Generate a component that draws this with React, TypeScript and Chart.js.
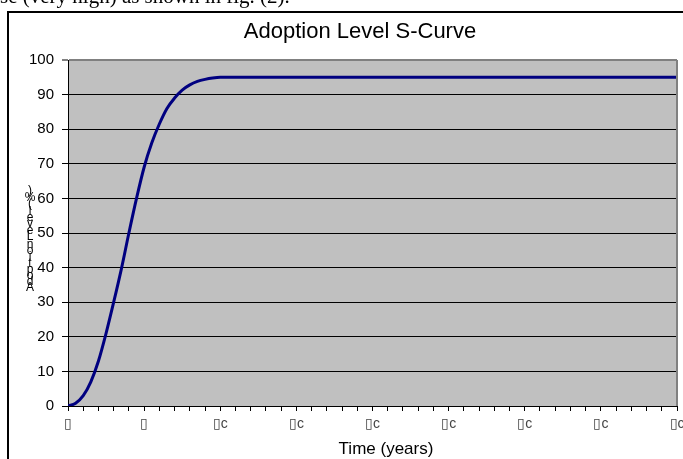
import React, { useEffect, useRef } from "react";
import { Chart, registerables } from "chart.js";

Chart.register(...registerables);

// Data
const times = [0, 0.5, 1, 1.5, 2, 2.5, 3, 3.5, 4, 4.5, 5, 5.5, 6, 6.5, 7, 7.5, 8, 8.5, 9, 9.5, 10, 11, 12, 15, 20, 25, 30, 35, 40];
const adoption = [0, 0.8, 3, 7, 13, 21, 30, 39.5, 50, 60, 69, 76, 81.5, 86, 89, 91.3, 92.8, 93.8, 94.4, 94.8, 95, 95, 95, 95, 95, 95, 95, 95, 95];
const xTickLabels = ["\u25AF", "\u25AF", "\u25AFc", "\u25AFc", "\u25AFc", "\u25AFc", "\u25AFc", "\u25AFc", "\u25AFc"];
const chartTitle = "Adoption Level S-Curve";
const xTitle = "Time (years)";
const yTitle = "Adoption Level (%)";
const docText = "se (very high) as shown in fig. (2).";

const FONT = "'Liberation Sans', Arial, sans-serif";

export default function App() {
  const ref = useRef<HTMLCanvasElement | null>(null);

  useEffect(() => {
    if (!ref.current) return;
    const decor = {
      id: "decor",
      beforeDraw(chart: any) {
        const { ctx, chartArea } = chart;
        ctx.save();
        ctx.fillStyle = "#ffffff";
        ctx.fillRect(0, 0, chart.width, chart.height);
        // frame
        ctx.strokeStyle = "#000";
        ctx.lineWidth = 2;
        ctx.strokeRect(8, 12, 700, 500);
        // plot background
        ctx.fillStyle = "#C0C0C0";
        ctx.fillRect(chartArea.left, chartArea.top, chartArea.right - chartArea.left, chartArea.bottom - chartArea.top);
        ctx.restore();
      },
      afterDraw(chart: any) {
        const { ctx, chartArea } = chart;
        ctx.save();
        // right border
        ctx.strokeStyle = "#808080";
        ctx.lineWidth = 2;
        ctx.beginPath();
        ctx.moveTo(chartArea.right, chartArea.top);
        ctx.lineTo(chartArea.right, chartArea.bottom);
        ctx.stroke();
        // titles
        ctx.fillStyle = "#000";
        ctx.textAlign = "center";
        ctx.textBaseline = "middle";
        ctx.font = `22px ${FONT}`;
        ctx.fillText(chartTitle, 360, 32);
        ctx.font = `17px ${FONT}`;
        ctx.fillText(xTitle, 386, 449);
        // stacked y title
        ctx.font = `12px ${FONT}`;
        let y = 288;
        for (const ch of yTitle) {
          if (ch === " ") { y -= 2; continue; }
          ctx.fillText(ch, 30, y);
          y -= 6.2;
        }
        ctx.restore();
      },
    };

    const chart = new Chart(ref.current, {
      type: "line",
      data: {
        datasets: [
          {
            data: times.map((t, i) => ({ x: t, y: adoption[i] })),
            borderColor: "#000080",
            borderWidth: 3,
            pointRadius: 0,
            cubicInterpolationMode: "monotone",
            fill: false,
          },
        ],
      },
      options: {
        animation: false,
        responsive: false,
        maintainAspectRatio: false,
        layout: { padding: { left: 0, top: 60, right: 6, bottom: 0 } },
        plugins: { legend: { display: false }, title: { display: false }, tooltip: { enabled: false } },
        scales: {
          x: {
            type: "linear",
            min: 0,
            max: 40,
            afterFit: (s: any) => { s.height = 53; s.paddingLeft = 0; s.paddingRight = 0; },
            border: { display: true, color: "#000", width: 1 },
            grid: { display: true, drawOnChartArea: false, drawTicks: true, tickLength: 5, color: "#000" },
            ticks: {
              stepSize: 1,
              autoSkip: false,
              maxRotation: 0,
              padding: 5,
              color: "#444",
              font: { family: FONT, size: 14 },
              callback: (v: any) => (Number(v) % 5 === 0 ? xTickLabels[Number(v) / 5] : ""),
            },
          },
          y: {
            min: 0,
            max: 100,
            afterFit: (s: any) => { s.width = 68; },
            border: { display: true, color: "#000", width: 1 },
            grid: {
              color: (c: any) => (c.tick && c.tick.value === 100 ? "#808080" : "#000"),
              lineWidth: (c: any) => (c.tick && c.tick.value === 100 ? 2 : 1),
              tickLength: 6,
              tickColor: "#000",
              tickWidth: 1,
            },
            ticks: { stepSize: 10, padding: 8, color: "#000", font: { family: FONT, size: 15 } },
          },
        },
      },
      plugins: [decor],
    } as any);
    return () => chart.destroy();
  }, []);

  return (
    <div style={{ position: "absolute", left: 0, top: 0, width: 683, height: 459, overflow: "hidden", background: "#fff" }}>
      <canvas ref={ref} width={683} height={459} style={{ position: "absolute", left: 0, top: 0 }} />
      <div
        style={{
          position: "absolute",
          left: 0,
          top: -14,
          fontFamily: "'Liberation Serif', 'Times New Roman', serif",
          fontSize: 21,
          lineHeight: "21px",
          whiteSpace: "nowrap",
          color: "#000",
        }}
      >
        {docText}
      </div>
    </div>
  );
}
